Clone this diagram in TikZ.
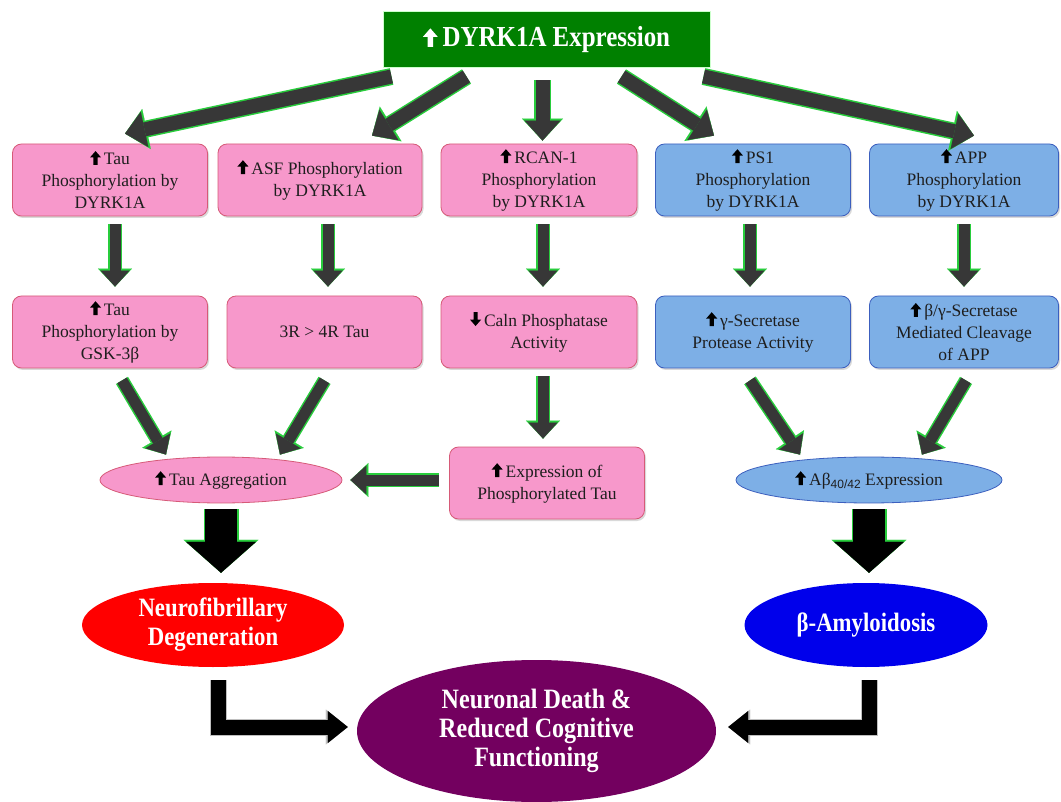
\documentclass[tikz,border=0pt]{standalone}
\usepackage{fontspec}
\setmainfont{Liberation Serif}
\newfontfamily\boxfont{Liberation Serif}
\newfontfamily\condfont{Liberation Serif}[FakeStretch=0.86]
\newfontfamily\labsans{Liberation Sans}
\usetikzlibrary{arrows.meta,shapes.geometric,shadows}

\definecolor{boxpink}{RGB}{247,152,203}
\definecolor{pinkedge}{RGB}{214,90,120}
\definecolor{boxblue}{RGB}{125,175,230}
\definecolor{blueedge}{RGB}{60,95,190}
\definecolor{topgreen}{RGB}{0,128,0}
\definecolor{arrgray}{RGB}{55,55,55}
\definecolor{glow}{RGB}{40,205,60}
\definecolor{deathpurple}{RGB}{115,0,95}
\definecolor{amyblue}{RGB}{0,0,235}
\definecolor{inktext}{RGB}{30,30,30}

\newcommand\arrowglyph[3]{%
  \begin{pgfpicture}
    \pgfsetfillcolor{#1}\pgftransformscale{#2}%
    \ifnum#3=1
      \pgfpathmoveto{\pgfpoint{-1.8pt}{0pt}}%
      \pgfpathlineto{\pgfpoint{1.8pt}{0pt}}\pgfpathlineto{\pgfpoint{1.8pt}{6.5pt}}%
      \pgfpathlineto{\pgfpoint{4.8pt}{6.5pt}}\pgfpathlineto{\pgfpoint{0pt}{12pt}}%
      \pgfpathlineto{\pgfpoint{-4.8pt}{6.5pt}}\pgfpathlineto{\pgfpoint{-1.8pt}{6.5pt}}%
    \else
      \pgfpathmoveto{\pgfpoint{-1.8pt}{12pt}}%
      \pgfpathlineto{\pgfpoint{1.8pt}{12pt}}\pgfpathlineto{\pgfpoint{1.8pt}{5.5pt}}%
      \pgfpathlineto{\pgfpoint{4.8pt}{5.5pt}}\pgfpathlineto{\pgfpoint{0pt}{0pt}}%
      \pgfpathlineto{\pgfpoint{-4.8pt}{5.5pt}}\pgfpathlineto{\pgfpoint{-1.8pt}{5.5pt}}%
    \fi
    \pgfpathclose\pgfusepath{fill}%
  \end{pgfpicture}}
\newsavebox\upbk
\newsavebox\upwh
\newsavebox\dnbk
\newcommand\uparr{\usebox\upbk\,}
\newcommand\uparw{\usebox\upwh\,}
\newcommand\dnarr{\usebox\dnbk\,}

\begin{document}
\sbox\upbk{\arrowglyph{black}{1.15}{1}}
\sbox\upwh{\arrowglyph{white}{1.55}{1}}
\sbox\dnbk{\arrowglyph{black}{1.15}{0}}
\begin{tikzpicture}[x=1pt,y=-1pt,
    pinkbox/.style={rectangle, rounded corners=9pt, fill=boxpink, draw=pinkedge, line width=0.8pt,
      align=center, minimum height=72pt, inner sep=2pt, text=inktext,
      font=\boxfont\fontsize{17.5}{22}\selectfont,
      drop shadow={shadow xshift=1.5pt, shadow yshift=-2pt, opacity=0.3}},
    bluebox/.style={pinkbox, fill=boxblue, draw=blueedge},
    smallell/.style={ellipse, line width=0.8pt, minimum height=46pt, inner sep=0pt, text=inktext,
      font=\boxfont\fontsize{17.5}{21}\selectfont},
    bigell/.style={ellipse, inner sep=0pt, text=white, align=center,
      font=\condfont\bfseries\fontsize{26.5}{29}\selectfont},
    darrow/.style={draw=arrgray, line width=14pt, -{Triangle[width=36pt,length=20pt,line width=0.1pt]},
      preaction={draw=glow, line width=17pt, -{Triangle[width=41pt,length=22pt,line width=0.1pt]}}},
    garrow/.style={draw=arrgray, line width=11pt, -{Triangle[width=29pt,length=16pt,line width=0.1pt]},
      preaction={draw=glow, line width=14pt, -{Triangle[width=34pt,length=18pt,line width=0.1pt]}}},
    bigarrow/.style={draw=black, line width=32pt, -{Triangle[width=70pt,length=31pt,line width=0.1pt]},
      preaction={draw=glow, line width=35pt, -{Triangle[width=75pt,length=33pt,line width=0.1pt]}}},
    elbow/.style={draw=black, line width=15pt, line join=miter, -{Triangle[width=32pt,length=20pt,line width=0.1pt]},
      preaction={draw=white!75!black, line width=17pt, -{Triangle[width=35pt,length=22pt,line width=0.1pt]}}}]
    \useasboundingbox (0,0) rectangle (1061,802);

    \node[fill=topgreen, draw=green!20!white, line width=1pt, minimum width=327pt, minimum height=56pt,
      text=white, font=\condfont\bfseries\fontsize{29}{32}\selectfont] (dyrk) at (546.5,40) {\uparw DYRK1A Expression};

    \node[pinkbox, minimum width=195pt] (tauphos) at (110,180) {\uparr Tau\\Phosphorylation by\\DYRK1A};
    \node[pinkbox, minimum width=204pt] (asfphos) at (320,180) {\uparr ASF Phosphorylation\\by DYRK1A};
    \node[pinkbox, minimum width=196pt] (rcanphos) at (539,180) {\uparr RCAN-1\\Phosphorylation\\by DYRK1A};
    \node[bluebox, minimum width=195pt] (psphos) at (753,180) {\uparr PS1\\Phosphorylation\\by DYRK1A};
    \node[bluebox, minimum width=189pt] (appphos) at (964,180) {\uparr APP\\Phosphorylation\\by DYRK1A};

    \node[pinkbox, minimum width=195pt] (gskphos) at (110,332) {\uparr Tau\\Phosphorylation by\\GSK-3β};
    \node[pinkbox, minimum width=195pt] (tauratio) at (324.5,332) {3R > 4R Tau};
    \node[pinkbox, minimum width=196pt] (calcin) at (539,332) {\dnarr Caln Phosphatase\\Activity};
    \node[bluebox, minimum width=195pt] (gsec) at (753,332) {\uparr γ-Secretase\\Protease Activity};
    \node[bluebox, minimum width=189pt] (bgcleave) at (964,332) {\uparr β/γ-Secretase\\Mediated Cleavage\\of APP};

    \node[pinkbox, minimum width=195pt] (phostau) at (547,483) {\uparr Expression of\\Phosphorylated Tau};
    \node[smallell, fill=boxpink, draw=pinkedge, minimum width=242pt] (tauagg) at (221,480) {\uparr Tau Aggregation};
    \node[smallell, fill=boxblue, draw=blueedge, minimum width=266pt] (abeta) at (869,480)
      {\uparr Aβ{\labsans\fontsize{12}{12}\selectfont\raisebox{-3pt}{40/42}} Expression};

    \node[bigell, fill=red, minimum width=262pt, minimum height=84pt] (nfd) at (213,625) {Neurofibrillary\\Degeneration};
    \node[bigell, fill=amyblue, minimum width=243pt, minimum height=84pt] (amyl) at (866,625) {β-Amyloidosis};
    \node[bigell, fill=deathpurple, minimum width=359pt, minimum height=142pt,
      font=\condfont\bfseries\fontsize{28}{29}\selectfont] (death) at (536.5,731)
      {Neuronal Death \&\\Reduced Cognitive\\Functioning};

    \draw[darrow] ([xshift=-155pt,yshift=-8pt]dyrk.south) -- ([xshift=15pt,yshift=10pt]tauphos.north);
    \draw[darrow] ([xshift=-80pt,yshift=-8pt]dyrk.south) -- ([xshift=52pt,yshift=8pt]asfphos.north);
    \draw[darrow] ([xshift=-4pt,yshift=-12pt]dyrk.south) -- ([xshift=3.5pt,yshift=3pt]rcanphos.north);
    \draw[darrow] ([xshift=75pt,yshift=-8pt]dyrk.south) -- ([xshift=-39pt,yshift=8pt]psphos.north);
    \draw[darrow] ([xshift=157pt,yshift=-8pt]dyrk.south) -- ([xshift=10pt,yshift=8pt]appphos.north);

    \draw[garrow] ([xshift=5pt,yshift=-8pt]tauphos.south) -- ([xshift=5pt,yshift=9pt]gskphos.north);
    \draw[garrow] ([xshift=8pt,yshift=-8pt]asfphos.south) -- ([xshift=3.5pt,yshift=9pt]tauratio.north);
    \draw[garrow] ([xshift=4pt,yshift=-8pt]rcanphos.south) -- ([xshift=4pt,yshift=9pt]calcin.north);
    \draw[garrow] ([xshift=-3pt,yshift=-8pt]psphos.south) -- ([xshift=-3pt,yshift=9pt]gsec.north);
    \draw[garrow] ([xshift=0pt,yshift=-8pt]appphos.south) -- ([xshift=0pt,yshift=9pt]bgcleave.north);

    \draw[garrow] ([xshift=12pt,yshift=-12pt]gskphos.south) -- ([xshift=-55pt,yshift=2pt]tauagg.north);
    \draw[garrow] ([xshift=0pt,yshift=-12pt]tauratio.south) -- ([xshift=59pt,yshift=2pt]tauagg.north);
    \draw[garrow] ([xshift=4pt,yshift=-8pt]calcin.south) -- ([xshift=-4pt,yshift=8pt]phostau.north);
    \draw[garrow] ([xshift=-3pt,yshift=-12pt]gsec.south) -- ([xshift=-69pt,yshift=2pt]abeta.north);
    \draw[garrow] ([xshift=2pt,yshift=-12pt]bgcleave.south) -- ([xshift=53pt,yshift=2pt]abeta.north);
    \draw[garrow] ([xshift=-10pt]phostau.west |- tauagg.east) -- ([xshift=8pt]tauagg.east);

    \draw[bigarrow] ([yshift=-6pt]tauagg.south) -- ([yshift=10pt]tauagg.south |- nfd.north);
    \draw[bigarrow] ([yshift=-6pt]abeta.south) -- ([yshift=10pt]abeta.south |- amyl.north);

    \coordinate (nfdfoot) at ([xshift=5pt,yshift=-13pt]nfd.south);
    \coordinate (amylfoot) at ([xshift=3pt,yshift=-13pt]amyl.south);
    \draw[elbow] (nfdfoot) |- ([xshift=-9pt,yshift=4pt]death.west);
    \draw[elbow] (amylfoot) |- ([xshift=12pt,yshift=4pt]death.east);
\end{tikzpicture}
\end{document}
